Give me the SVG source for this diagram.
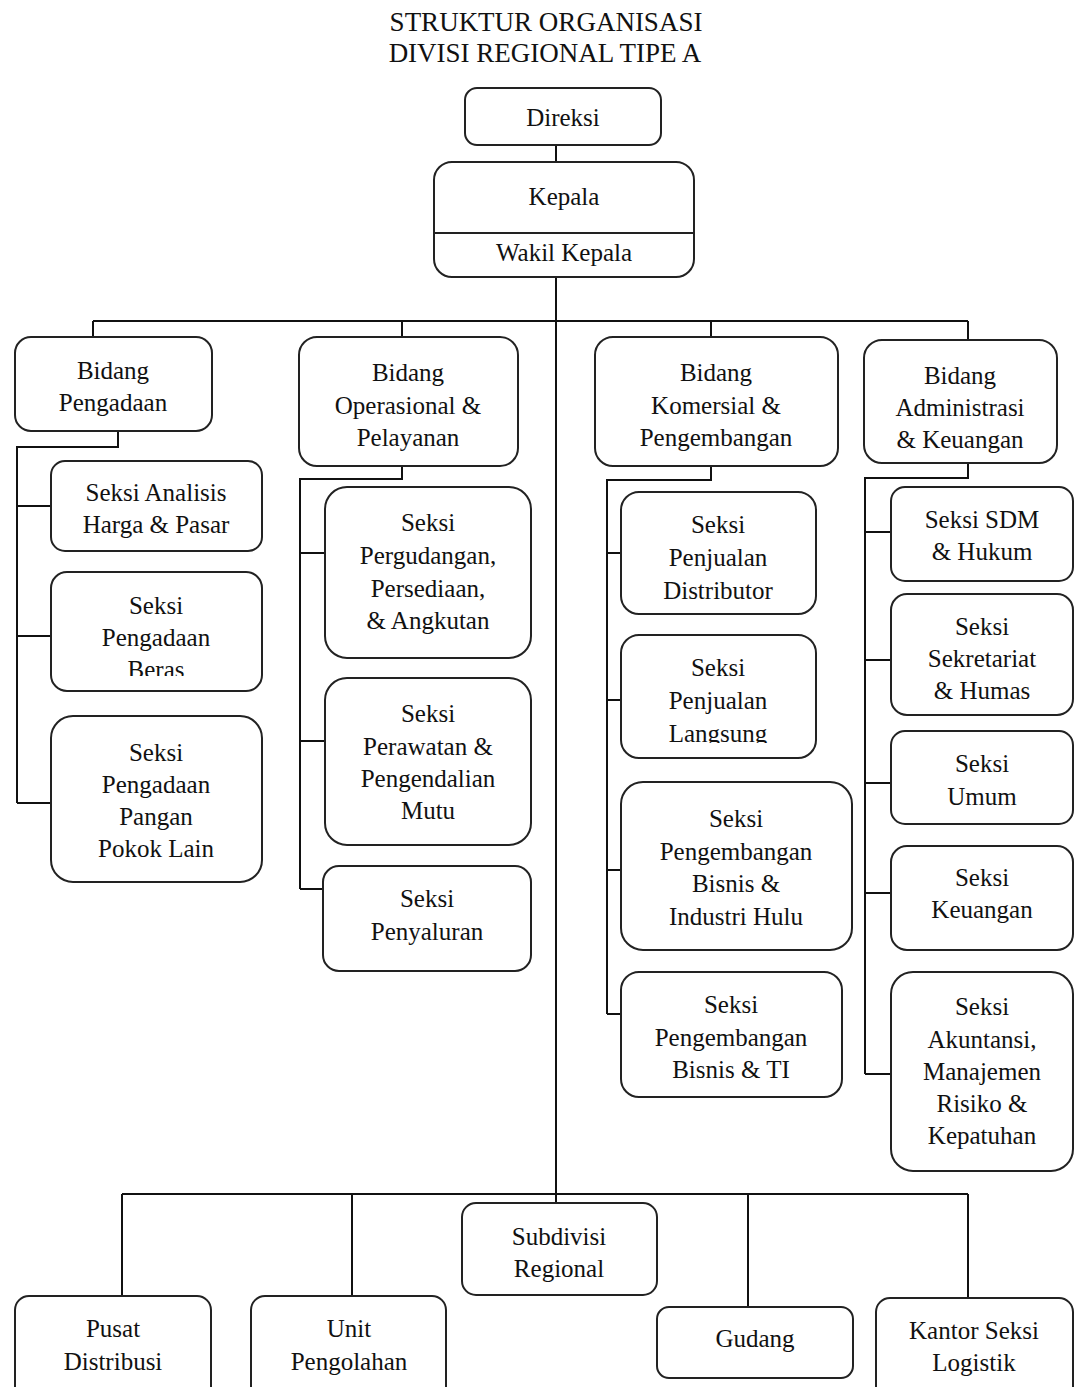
<svg xmlns="http://www.w3.org/2000/svg" width="1080" height="1387" viewBox="0 0 1080 1387">
<style>
.b{fill:#fff;stroke:#222;stroke-width:2}
.t{font-family:"Liberation Serif","Times New Roman",serif;font-size:25px;fill:#111;text-anchor:middle}
.h{font-family:"Liberation Serif","Times New Roman",serif;font-size:27px;fill:#111;text-anchor:middle}
.c{fill:none;stroke:#111;stroke-width:2}
</style>
<defs>
<clipPath id="clipBeras"><rect x="51" y="572" width="211" height="104"/></clipPath>
<clipPath id="clipLangsung"><rect x="621" y="635" width="195" height="108"/></clipPath>
</defs>
<rect width="1080" height="1387" fill="#fff"/>
<g id="title">
<text class="h" x="546" y="31">STRUKTUR ORGANISASI</text>
<text class="h" x="545" y="62">DIVISI REGIONAL TIPE A</text>
</g>
<g id="connectors">
<path class="c" d="M556 145V162M556 277V1203M93 321H968M93 321V337M402 321V337M711 321V337M968 321V340"/>
<path class="c" d="M118 431V447H17V803M17 506H51M17 636H51M17 803H51"/>
<path class="c" d="M402 466V479H300V889M300 553H325M300 741H325M300 889H323"/>
<path class="c" d="M711 466V480H607V1014M607 553H621M607 700H621M607 870H621M607 1014H621"/>
<path class="c" d="M968 463V478H865V1074M865 532H891M865 660H891M865 783H891M865 893H891M865 1074H891"/>
<path class="c" d="M122 1194H968M122 1194V1296M352 1194V1296M748 1194V1307M968 1194V1298"/>
</g>
<g id="direksi"><rect class="b" x="465" y="88" width="196" height="57" rx="12"/><text class="t" x="563" y="126">Direksi</text></g>
<g id="kepala"><rect class="b" x="434" y="162" width="260" height="115" rx="18"/><line x1="434" y1="233" x2="694" y2="233" stroke="#222" stroke-width="2"/><text class="t" x="564" y="205">Kepala</text><text class="t" x="564" y="261">Wakil Kepala</text></g>
<g id="bidang-pengadaan"><rect class="b" x="15" y="337" width="197" height="94" rx="16"/><text class="t" x="113" y="379">Bidang</text><text class="t" x="113" y="411">Pengadaan</text></g>
<g id="bidang-operasional"><rect class="b" x="299" y="337" width="219" height="129" rx="18"/><text class="t" x="408" y="381">Bidang</text><text class="t" x="408" y="414">Operasional &amp;</text><text class="t" x="408" y="446">Pelayanan</text></g>
<g id="bidang-komersial"><rect class="b" x="595" y="337" width="243" height="129" rx="18"/><text class="t" x="716" y="381">Bidang</text><text class="t" x="716" y="414">Komersial &amp;</text><text class="t" x="716" y="446">Pengembangan</text></g>
<g id="bidang-administrasi"><rect class="b" x="864" y="340" width="193" height="123" rx="18"/><text class="t" x="960" y="384">Bidang</text><text class="t" x="960" y="416">Administrasi</text><text class="t" x="960" y="448">&amp; Keuangan</text></g>
<g id="seksi-analisis"><rect class="b" x="51" y="461" width="211" height="90" rx="14"/><text class="t" x="156" y="501">Seksi Analisis</text><text class="t" x="156" y="533">Harga &amp; Pasar</text></g>
<g id="seksi-beras"><rect class="b" x="51" y="572" width="211" height="119" rx="16"/><text class="t" x="156" y="614">Seksi</text><text class="t" x="156" y="646">Pengadaan</text><text class="t" x="156" y="678" clip-path="url(#clipBeras)">Beras</text></g>
<g id="seksi-pangan"><rect class="b" x="51" y="716" width="211" height="166" rx="22"/><text class="t" x="156" y="761">Seksi</text><text class="t" x="156" y="793">Pengadaan</text><text class="t" x="156" y="825">Pangan</text><text class="t" x="156" y="857">Pokok Lain</text></g>
<g id="seksi-pergudangan"><rect class="b" x="325" y="487" width="206" height="171" rx="22"/><text class="t" x="428" y="531">Seksi</text><text class="t" x="428" y="564">Pergudangan,</text><text class="t" x="428" y="597">Persediaan,</text><text class="t" x="428" y="629">&amp; Angkutan</text></g>
<g id="seksi-perawatan"><rect class="b" x="325" y="678" width="206" height="167" rx="22"/><text class="t" x="428" y="722">Seksi</text><text class="t" x="428" y="755">Perawatan &amp;</text><text class="t" x="428" y="787">Pengendalian</text><text class="t" x="428" y="819">Mutu</text></g>
<g id="seksi-penyaluran"><rect class="b" x="323" y="866" width="208" height="105" rx="16"/><text class="t" x="427" y="907">Seksi</text><text class="t" x="427" y="940">Penyaluran</text></g>
<g id="seksi-distributor"><rect class="b" x="621" y="492" width="195" height="122" rx="18"/><text class="t" x="718" y="533">Seksi</text><text class="t" x="718" y="566">Penjualan</text><text class="t" x="718" y="599">Distributor</text></g>
<g id="seksi-langsung"><rect class="b" x="621" y="635" width="195" height="123" rx="18"/><text class="t" x="718" y="676">Seksi</text><text class="t" x="718" y="709">Penjualan</text><text class="t" x="718" y="742" clip-path="url(#clipLangsung)">Langsung</text></g>
<g id="seksi-hulu"><rect class="b" x="621" y="782" width="231" height="168" rx="22"/><text class="t" x="736" y="827">Seksi</text><text class="t" x="736" y="860">Pengembangan</text><text class="t" x="736" y="892">Bisnis &amp;</text><text class="t" x="736" y="925">Industri Hulu</text></g>
<g id="seksi-ti"><rect class="b" x="621" y="972" width="221" height="125" rx="18"/><text class="t" x="731" y="1013">Seksi</text><text class="t" x="731" y="1046">Pengembangan</text><text class="t" x="731" y="1078">Bisnis &amp; TI</text></g>
<g id="seksi-sdm"><rect class="b" x="891" y="487" width="182" height="94" rx="14"/><text class="t" x="982" y="528">Seksi SDM</text><text class="t" x="982" y="560">&amp; Hukum</text></g>
<g id="seksi-sekretariat"><rect class="b" x="891" y="594" width="182" height="121" rx="16"/><text class="t" x="982" y="635">Seksi</text><text class="t" x="982" y="667">Sekretariat</text><text class="t" x="982" y="699">&amp; Humas</text></g>
<g id="seksi-umum"><rect class="b" x="891" y="731" width="182" height="93" rx="14"/><text class="t" x="982" y="772">Seksi</text><text class="t" x="982" y="805">Umum</text></g>
<g id="seksi-keuangan"><rect class="b" x="891" y="846" width="182" height="104" rx="16"/><text class="t" x="982" y="886">Seksi</text><text class="t" x="982" y="918">Keuangan</text></g>
<g id="seksi-akuntansi"><rect class="b" x="891" y="972" width="182" height="199" rx="22"/><text class="t" x="982" y="1015">Seksi</text><text class="t" x="982" y="1048">Akuntansi,</text><text class="t" x="982" y="1080">Manajemen</text><text class="t" x="982" y="1112">Risiko &amp;</text><text class="t" x="982" y="1144">Kepatuhan</text></g>
<g id="subdivisi"><rect class="b" x="462" y="1203" width="195" height="92" rx="14"/><text class="t" x="559" y="1245">Subdivisi</text><text class="t" x="559" y="1277">Regional</text></g>
<g id="pusat"><rect class="b" x="15" y="1296" width="196" height="110" rx="14"/><text class="t" x="113" y="1337">Pusat</text><text class="t" x="113" y="1370">Distribusi</text></g>
<g id="unit"><rect class="b" x="251" y="1296" width="195" height="110" rx="14"/><text class="t" x="349" y="1337">Unit</text><text class="t" x="349" y="1370">Pengolahan</text></g>
<g id="gudang"><rect class="b" x="657" y="1307" width="196" height="71" rx="12"/><text class="t" x="755" y="1347">Gudang</text></g>
<g id="kantor"><rect class="b" x="876" y="1298" width="197" height="110" rx="14"/><text class="t" x="974" y="1339">Kantor Seksi</text><text class="t" x="974" y="1371">Logistik</text></g>
</svg>
